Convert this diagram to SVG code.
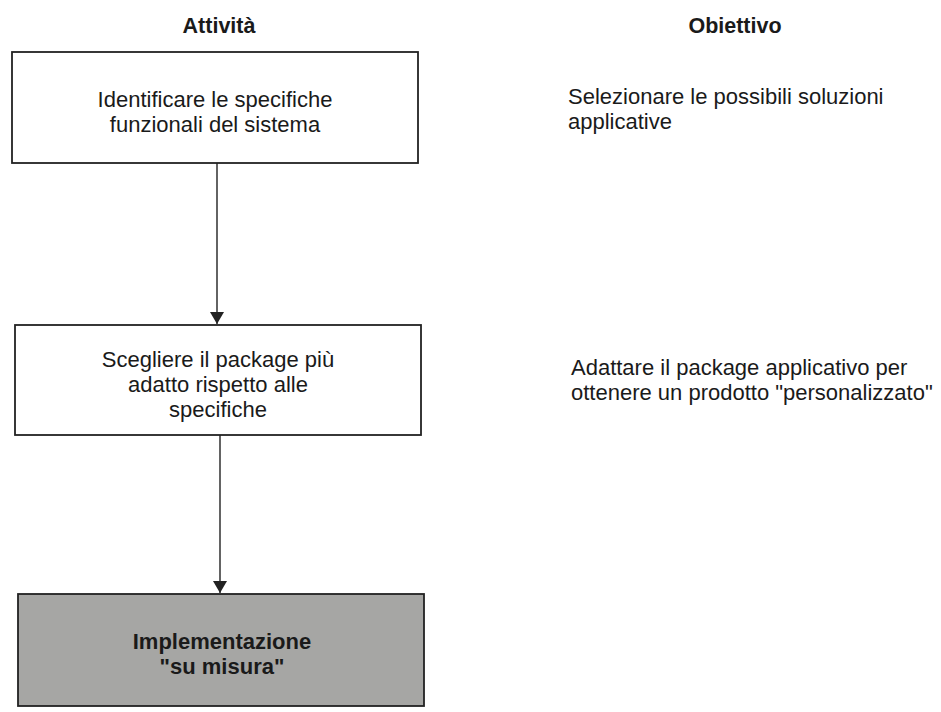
<svg xmlns="http://www.w3.org/2000/svg" width="941" height="712" viewBox="0 0 941 712">
<style>
.box{fill:#fff;stroke:#222;stroke-width:1.8}
.shade{fill:#a6a6a4;stroke:#222;stroke-width:1.8}
.t{font-family:"Liberation Sans",Arial,sans-serif;font-size:22px;fill:#1a1a1a}
.c{text-anchor:middle}
.h{font-family:"Liberation Sans",Arial,sans-serif;font-size:21.5px;font-weight:bold;fill:#1a1a1a;text-anchor:middle}
.b{font-weight:bold}
.conn{stroke:#222;stroke-width:1.4;fill:none}
</style>
<defs>
<marker id="arr" viewBox="0 0 10 10" refX="10" refY="5" markerWidth="12" markerHeight="14" markerUnits="userSpaceOnUse" orient="auto" preserveAspectRatio="none">
<path d="M0,0 L10,5 L0,10 z" fill="#222"/>
</marker>
</defs>
<rect width="941" height="712" fill="#fff"/>
<g id="hdr-attivita"><text class="h" x="219" y="33">Attività</text></g>
<g id="hdr-obiettivo"><text class="h" x="735" y="33">Obiettivo</text></g>
<g id="n1">
<rect class="box" x="12" y="52" width="406" height="111"/>
<text class="t c" x="215" y="107">Identificare le specifiche</text>
<text class="t c" x="215" y="132">funzionali del sistema</text>
</g>
<g id="n2">
<rect class="box" x="15" y="325" width="406" height="110"/>
<text class="t c" x="218" y="367">Scegliere il package più</text>
<text class="t c" x="218" y="392">adatto rispetto alle</text>
<text class="t c" x="218" y="417">specifiche</text>
</g>
<g id="n3">
<rect class="shade" x="18" y="594" width="406" height="112"/>
<text class="t c b" x="222" y="649">Implementazione</text>
<text class="t c b" x="222" y="674">"su misura"</text>
</g>
<g id="o1">
<text class="t" x="568" y="104">Selezionare le possibili soluzioni</text>
<text class="t" x="568" y="129">applicative</text>
</g>
<g id="o2">
<text class="t" x="571" y="375">Adattare il package applicativo per</text>
<text class="t" x="571" y="400">ottenere un prodotto "personalizzato"</text>
</g>
<g id="connectors">
<line class="conn" x1="217" y1="163" x2="217" y2="324" marker-end="url(#arr)"/>
<line class="conn" x1="220" y1="435" x2="220" y2="593" marker-end="url(#arr)"/>
</g>
</svg>
